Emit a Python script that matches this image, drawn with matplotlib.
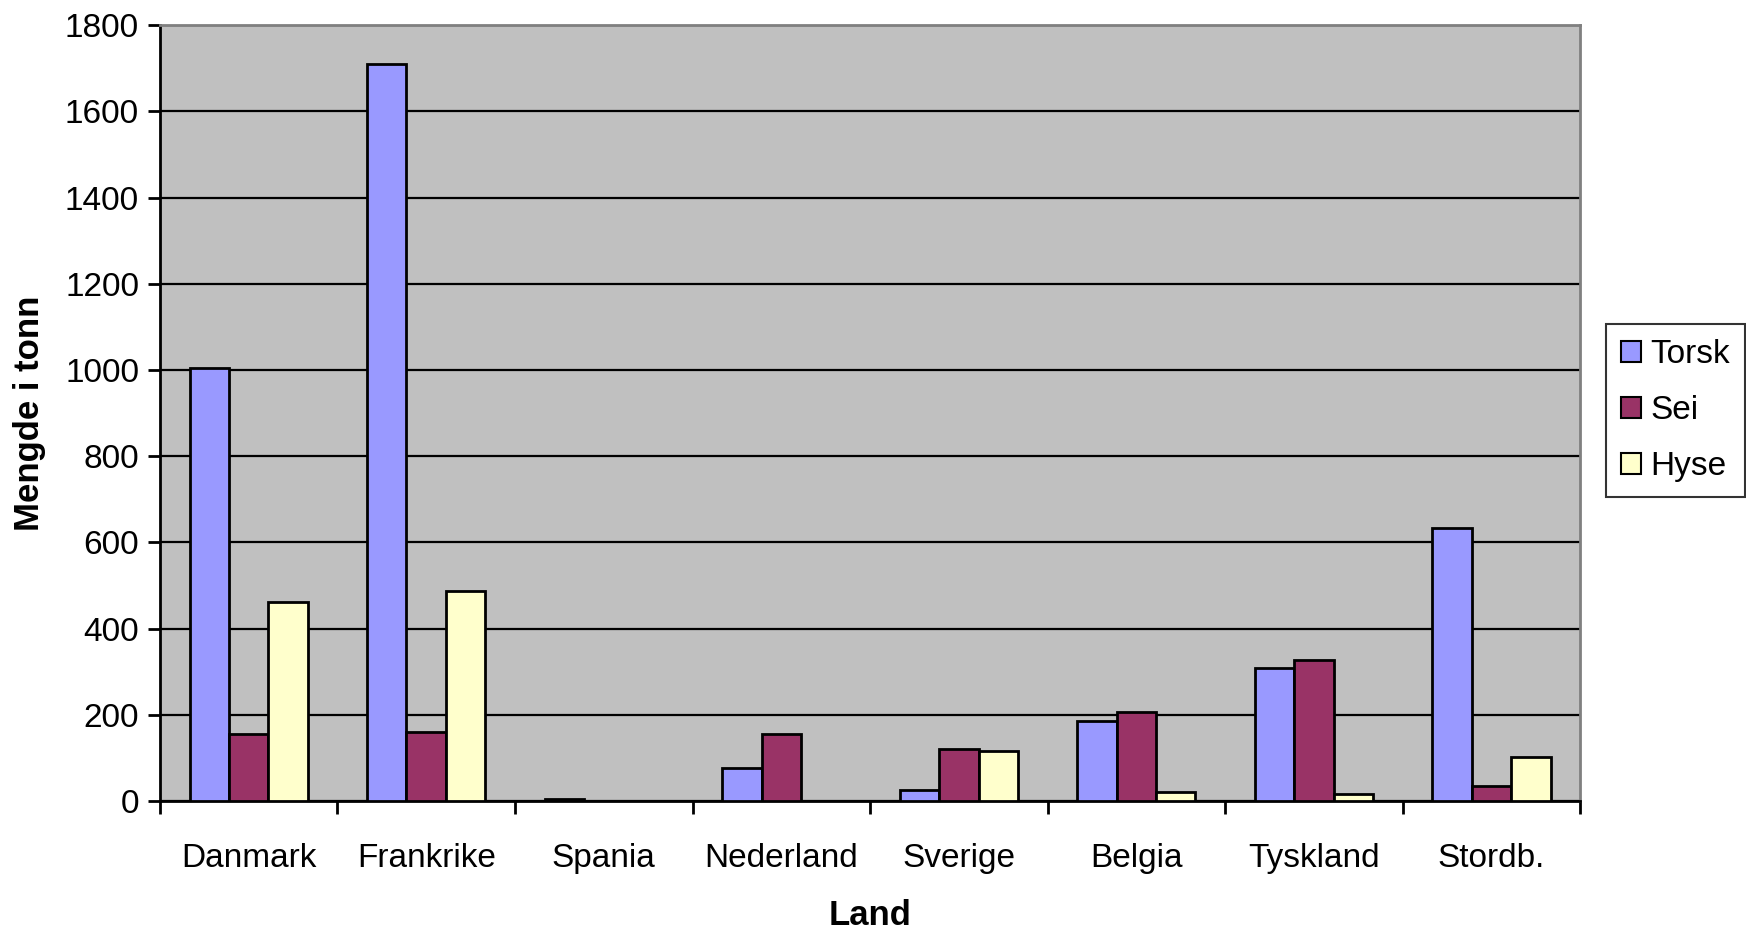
import numpy as np
import matplotlib.pyplot as plt
from matplotlib.ticker import FixedLocator, NullFormatter

plt.rcParams['font.family'] = ['Liberation Sans', 'DejaVu Sans']

# data
land = ['Danmark', 'Frankrike', 'Spania', 'Nederland', 'Sverige', 'Belgia', 'Tyskland', 'Stordb.']
torsk = [1005, 1710, 4, 77, 26, 186, 309, 634]
sei = [155, 160, 0, 155, 121, 206, 327, 34]
hyse = [462, 487, 0, 0, 116, 21, 15, 103]

series = [('Torsk', torsk, '#9999FF'), ('Sei', sei, '#993366'), ('Hyse', hyse, '#FFFFCC')]

fig = plt.figure(figsize=(17.46, 9.32), dpi=100)
ax = fig.add_axes([0.0916, 0.1406, 0.8134, 0.8324])
ax.set_facecolor('#C0C0C0')

x = np.arange(len(land))
w = 0.2222
for i, (name, vals, col) in enumerate(series):
    ax.bar(x + (i - 1) * w, vals, width=w, color=col, edgecolor='black', linewidth=2, label=name, zorder=3)

ax.set_xlim(-0.5, len(land) - 0.5)
ax.set_ylim(0, 1800)
ax.set_yticks(np.arange(0, 1801, 200))
ax.yaxis.grid(True, color='black', linewidth=1.6, zorder=1)
ax.set_axisbelow(True)

# category labels in the middle, ticks on the boundaries
ax.xaxis.set_major_locator(FixedLocator(np.arange(-0.5, len(land), 1.0)))
ax.xaxis.set_major_formatter(NullFormatter())
ax.xaxis.set_minor_locator(FixedLocator(x))
ax.set_xticklabels(land, minor=True)
ax.tick_params(axis='x', which='minor', length=0, pad=30, labelsize=24)
ax.tick_params(axis='x', which='major', length=9, width=2, direction='out')
ax.tick_params(axis='y', length=9, width=2, direction='out', labelsize=24, pad=6)

for s in ['left', 'bottom']:
    ax.spines[s].set_linewidth(2)
    ax.spines[s].set_color('black')
for s in ['top', 'right']:
    ax.spines[s].set_linewidth(2)
    ax.spines[s].set_color('#808080')

ax.set_xlabel('Land', fontsize=25, fontweight='bold', labelpad=18)
ax.set_ylabel('Mengde i tonn', fontsize=25, fontweight='bold', labelpad=14)

leg = ax.legend(loc='center left', bbox_to_anchor=(1.018, 0.503), borderaxespad=0, fontsize=24,
                frameon=True, fancybox=False, edgecolor='black', handlelength=0.6, handleheight=0.6,
                handletextpad=0.3, labelspacing=0.75, borderpad=0.45)
leg.get_frame().set_linewidth(1.5)
for h in leg.legend_handles:
    h.set_linewidth(1.5)

fig.savefig('out.png', dpi=100)
